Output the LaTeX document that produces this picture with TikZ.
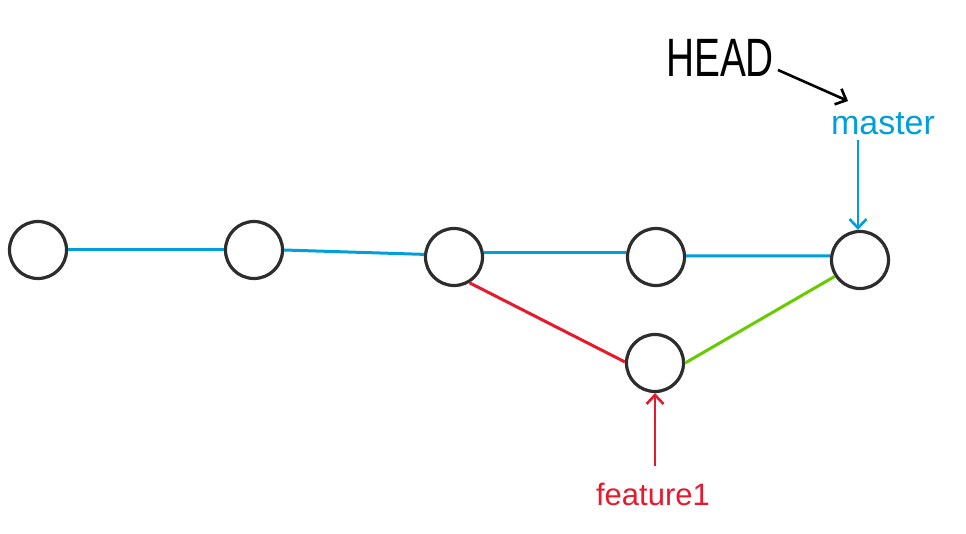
\documentclass[tikz,border=0pt]{standalone}
\usepackage{fontspec}
\setmainfont{Liberation Sans}
\usetikzlibrary{arrows.meta}
\definecolor{gblue}{RGB}{0,158,219}
\definecolor{gred}{RGB}{230,25,45}
\definecolor{ggreen}{RGB}{102,204,0}
\definecolor{gdark}{RGB}{45,45,45}
\tikzset{
  commit/.style={circle, draw=gdark, line width=3.2pt, minimum size=57pt, inner sep=0pt},
  bline/.style={gblue, line width=3pt},
  rline/.style={gred, line width=3pt},
  gline/.style={ggreen, line width=3pt},
  ptr/.style={line width=2.6pt, -{Straight Barb[length=9pt,width=17pt,line width=2.6pt]}},
  lbl/.style={inner sep=0pt, anchor=center},
}
\begin{document}
\begin{tikzpicture}[x=1pt,y=-1pt]
\useasboundingbox (0,0) rectangle (966,534);
\node[commit] (c1) at (38,250) {};
\node[commit] (c2) at (254,250) {};
\node[commit] (c3) at (454,257) {};
\node[commit] (c4) at (656,257) {};
\node[commit] (c5) at (860,260) {};
\node[commit] (c6) at (655,363) {};
\draw[bline] (c1.east) -- (c2.west);
\draw[bline] (c2.east) -- (c3.175);
\draw[bline] (c3.8) -- (c4.172);
\draw[bline] (c4.2) -- (c5.172);
\draw[rline] (c3.301) -- (c6.178);
\draw[gline] (c6.east) -- (c5.213);
\node[lbl, font=\fontsize{40}{40}\selectfont] (head) at (720,58) {\scalebox{0.97}[1.35]{HEAD}};
\node[lbl, gblue, font=\fontsize{34}{34}\selectfont, anchor=base] (master) at (883,135) {master};
\node[lbl, gred, font=\fontsize{31}{31}\selectfont, anchor=base] (feat) at (653,505) {feature1};
\coordinate (hs) at (778,70);
\coordinate (he) at (848,101);
\draw[ptr, black] (hs) -- (he);
\coordinate (ms) at (858,140);
\draw[ptr, gblue] (ms) -- (c5.north -| ms);
\coordinate (fs) at (655,466);
\draw[ptr, gred] (fs) -- (c6.south);
\end{tikzpicture}
\end{document}
